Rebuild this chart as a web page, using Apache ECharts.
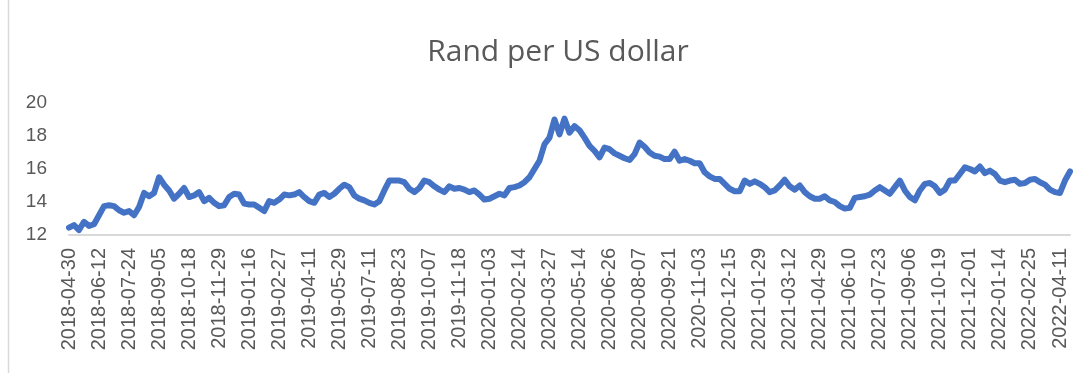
<!DOCTYPE html>
<html>
<head>
<meta charset="utf-8">
<script src="https://cdn.jsdelivr.net/npm/echarts@6/dist/echarts.min.js"></script>
<style>
  html, body { margin: 0; padding: 0; background: #ffffff; }
  #chart { width: 1086px; height: 373px; }
</style>
</head>
<body>
<div id="chart"></div>
<script>
// Trading-day labels shown along the x axis, one every 30 trading days.
const tickLabels = [
  '2018-04-30', '2018-06-12', '2018-07-24', '2018-09-05', '2018-10-18', '2018-11-29',
  '2019-01-16', '2019-02-27', '2019-04-11', '2019-05-29', '2019-07-11', '2019-08-23',
  '2019-10-07', '2019-11-18', '2020-01-03', '2020-02-14', '2020-03-27', '2020-05-14',
  '2020-06-26', '2020-08-07', '2020-09-21', '2020-11-03', '2020-12-15', '2021-01-29',
  '2021-03-12', '2021-04-29', '2021-06-10', '2021-07-23', '2021-09-06', '2021-10-19',
  '2021-12-01', '2022-01-14', '2022-02-25', '2022-04-11'
];
const TRADING_DAYS_PER_TICK = 30;
const TRADING_DAYS_PER_SAMPLE = 5;
const LAST_TRADING_DAY = 1000;

// USD/ZAR close, sampled every 5 trading days from 2018-04-30.
const randPerUsd = [
  12.45, 12.60, 12.30, 12.80, 12.55, 12.65, 13.20, 13.75, 13.80, 13.75,
  13.50, 13.35, 13.45, 13.20, 13.70, 14.55, 14.35, 14.55, 15.50, 15.05,
  14.70, 14.20, 14.50, 14.85, 14.30, 14.40, 14.60, 14.05, 14.25, 13.95,
  13.75, 13.80, 14.30, 14.50, 14.45, 13.90, 13.85, 13.85, 13.65, 13.45,
  14.05, 13.95, 14.15, 14.45, 14.40, 14.45, 14.60, 14.30, 14.05, 13.95,
  14.45, 14.55, 14.30, 14.50, 14.80, 15.05, 14.90, 14.40, 14.20, 14.10,
  13.95, 13.85, 14.05, 14.70, 15.30, 15.30, 15.30, 15.20, 14.80, 14.60,
  14.85, 15.30, 15.20, 14.95, 14.75, 14.60, 14.95, 14.80, 14.85, 14.75,
  14.60, 14.70, 14.45, 14.15, 14.20, 14.35, 14.50, 14.40, 14.85, 14.90,
  15.00, 15.20, 15.50, 16.00, 16.50, 17.50, 17.90, 19.00, 18.10, 19.05,
  18.20, 18.60, 18.35, 17.90, 17.40, 17.10, 16.70, 17.30, 17.20, 16.95,
  16.80, 16.65, 16.55, 16.90, 17.60, 17.35, 17.00, 16.80, 16.75, 16.60,
  16.60, 17.05, 16.50, 16.60, 16.50, 16.35, 16.35, 15.80, 15.55, 15.40,
  15.40, 15.10, 14.80, 14.65, 14.65, 15.30, 15.10, 15.25, 15.10, 14.90,
  14.60, 14.70, 15.00, 15.35, 14.95, 14.75, 15.00, 14.60, 14.35, 14.20,
  14.20, 14.35, 14.10, 14.00, 13.75, 13.60, 13.65, 14.25, 14.30, 14.35,
  14.45, 14.70, 14.90, 14.70, 14.50, 14.90, 15.30, 14.70, 14.30, 14.10,
  14.70, 15.10, 15.15, 14.95, 14.55, 14.75, 15.30, 15.30, 15.70, 16.10,
  16.00, 15.85, 16.15, 15.75, 15.90, 15.70, 15.30, 15.20, 15.30, 15.35,
  15.10, 15.15, 15.35, 15.40, 15.20, 15.05, 14.75, 14.60, 14.55, 15.30,
  15.85
];

const yTicks = { min: 12, max: 20, step: 2 };

const seriesData = randPerUsd.map((v, i) => [i * TRADING_DAYS_PER_SAMPLE, v]);

const chart = echarts.init(document.getElementById('chart'), null, { renderer: 'canvas' });

chart.setOption({
  backgroundColor: '#ffffff',
  animation: false,
  title: {
    text: 'Rand per US dollar',
    left: 553,
    top: 32,
    textAlign: 'center',
    textStyle: {
      fontFamily: 'Open Sans',
      fontWeight: 'normal',
      fontSize: 30,
      color: '#595959'
    }
  },
  grid: { left: 69, right: 16, top: 103, bottom: 138, containLabel: false },
  xAxis: {
    type: 'value',
    min: 0,
    max: LAST_TRADING_DAY,
    interval: TRADING_DAYS_PER_TICK,
    axisLine: { show: true, lineStyle: { color: '#d9d9d9', width: 2 } },
    axisTick: { show: false },
    splitLine: { show: false },
    axisLabel: {
      rotate: 90,
      margin: 13,
      showMaxLabel: false,
      fontFamily: 'Liberation Sans',
      fontSize: 20,
      color: '#595959',
      formatter: function (v) {
        if (v % TRADING_DAYS_PER_TICK !== 0) return '';
        const label = tickLabels[v / TRADING_DAYS_PER_TICK];
        return label === undefined ? '' : label;
      }
    }
  },
  yAxis: {
    type: 'value',
    min: yTicks.min,
    max: yTicks.max,
    interval: yTicks.step,
    axisLine: { show: false },
    axisTick: { show: false },
    splitLine: { show: false },
    axisLabel: {
      margin: 22,
      fontFamily: 'Liberation Sans',
      fontSize: 19,
      color: '#595959'
    }
  },
  series: [{
    type: 'line',
    data: seriesData,
    showSymbol: false,
    symbol: 'none',
    lineStyle: { color: '#4472C4', width: 6, join: 'round', cap: 'round' },
    z: 3
  }],
  graphic: [{
    type: 'line',
    shape: { x1: 8.5, y1: 0, x2: 8.5, y2: 373 },
    style: { stroke: '#d9d9d9', lineWidth: 1.5 },
    silent: true
  }]
});
</script>
</body>
</html>
